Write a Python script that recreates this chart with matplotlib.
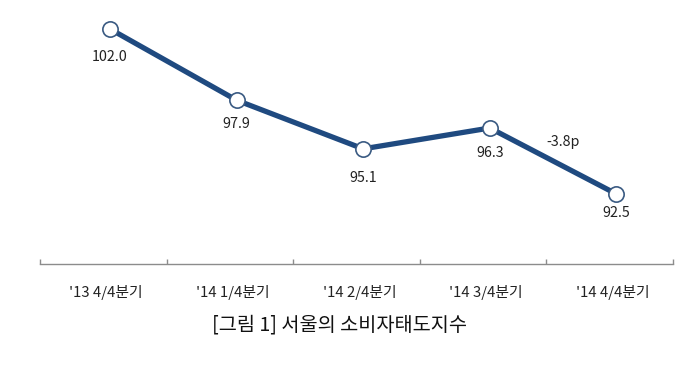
import numpy as np
import matplotlib
matplotlib.use('Agg')
import matplotlib.pyplot as plt

plt.rcParams['font.family'] = ['Noto Sans CJK KR', 'DejaVu Sans']

quarters = ["'13 4/4분기", "'14 1/4분기", "'14 2/4분기", "'14 3/4분기", "'14 4/4분기"]
index_values = [102.0, 97.9, 95.1, 96.3, 92.5]
value_labels = ['102.0', '97.9', '95.1', '96.3', '92.5']
change_note = '-3.8p'
title = '[그림 1] 서울의 소비자태도지수'

# label offsets below each point, in pixels
label_offsets = [28, 24, 29, 25, 19]

W, H = 700, 383
fig = plt.figure(figsize=(W / 100, H / 100), dpi=100)
ax = fig.add_axes([40 / W, (H - 264) / H, (673 - 40) / W, 264 / H])

x = np.arange(len(quarters))
ax.plot(x, index_values, color='#1f4a80', linewidth=3.8, solid_capstyle='round',
        marker='o', markersize=11, markerfacecolor='white',
        markeredgecolor='#3a5a82', markeredgewidth=1.2, zorder=3)

for xi, yi, lab, off in zip(x, index_values, value_labels, label_offsets):
    ax.annotate(lab, (xi, yi), xytext=(0, -off * 0.72), textcoords='offset points',
                ha='center', va='center', fontsize=10.3, color='#222222')

# change note between the last two points
ax.annotate(change_note, ((x[-2] + x[-1]) / 2, (index_values[-2] + index_values[-1]) / 2),
            xytext=(7, 14), textcoords='offset points',
            ha='center', va='center', fontsize=10.3, color='#222222')

ax.set_xlim(-0.553, 4.444)
ax.set_ylim(88.47, 103.67)

for s in ['top', 'right', 'left']:
    ax.spines[s].set_visible(False)
ax.spines['bottom'].set_color('#8c8c8c')
ax.spines['bottom'].set_linewidth(1.0)
ax.set_yticks([])

ax.set_xticks(np.arange(-0.553, 4.5, 1.0))
ax.set_xticklabels([])
ax.tick_params(axis='x', which='major', direction='in', length=3.5, color='#8c8c8c', width=1.0)
ax.set_xticks(x - 0.03, minor=True)
ax.set_xticklabels(quarters, minor=True, fontsize=10.7, color='#222222')
ax.tick_params(axis='x', which='minor', length=0, pad=15)

fig.text(340 / W, 1 - 325 / H, title, ha='center', va='center', fontsize=14.2, color='#111111')

fig.savefig('out.png', dpi=100)
